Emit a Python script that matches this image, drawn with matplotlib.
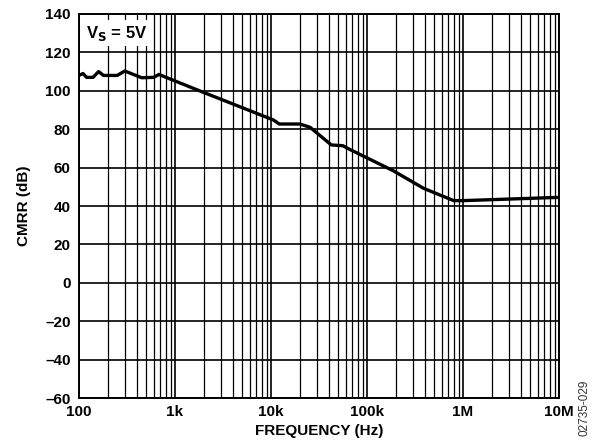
import matplotlib.pyplot as plt
from matplotlib.ticker import FixedLocator, LogLocator, NullFormatter

plt.rcParams['font.family'] = ['Liberation Sans', 'DejaVu Sans']
plt.rcParams['font.weight'] = 'bold'
plt.rcParams['axes.unicode_minus'] = True

# curve (Hz, dB)
freq = [100, 110, 120, 140, 160, 180, 250, 300, 450, 600, 680,
        1800, 10600, 12200, 20000, 25500, 42500, 56000, 66000,
        187000, 389000, 800000, 1000000, 10000000]
cmrr = [108, 109, 107, 107, 110, 108, 108, 110.3, 106.8, 107, 108.5,
        100, 84.8, 82.7, 82.7, 81, 71.8, 71.4, 69.5,
        58.4, 49.2, 42.8, 42.8, 44.5]

yticks = [-60, -40, -20, 0, 20, 40, 60, 80, 100, 120, 140]
xticks = [1e2, 1e3, 1e4, 1e5, 1e6, 1e7]
xlabels = ['100', '1k', '10k', '100k', '1M', '10M']

fig = plt.figure(figsize=(5.92, 4.44), dpi=100)
ax = fig.add_axes([79 / 592, 1 - 398 / 444, 480 / 592, 384 / 444])

ax.semilogx(freq, cmrr, color='black', linewidth=2.4, zorder=3)

ax.set_xlim(100, 1e7)
ax.set_ylim(-60, 140)
ax.xaxis.set_major_locator(FixedLocator(xticks))
ax.set_xticklabels(xlabels)
ax.xaxis.set_minor_locator(LogLocator(base=10, subs=range(2, 10)))
ax.xaxis.set_minor_formatter(NullFormatter())
ax.set_yticks(yticks)
ax.set_yticklabels([str(v).replace('-', '\u2013') for v in yticks])

ax.grid(which='major', axis='both', color='black', linewidth=1.2)
ax.grid(which='minor', axis='x', color='black', linewidth=0.9)
ax.tick_params(which='both', length=0, labelsize=11)
ax.tick_params(axis='y', pad=6)
ax.tick_params(axis='x', pad=5)
for s in ax.spines.values():
    s.set_linewidth(1.4)

ax.set_xlabel('FREQUENCY (Hz)', fontsize=11, fontweight='bold', labelpad=4)
ax.set_ylabel('CMRR (dB)', fontsize=11, fontweight='bold', labelpad=10)

ax.text(0.014, 0.975, r'V$_\mathbf{S}$ = 5V', transform=ax.transAxes,
        fontsize=12, fontweight='bold', va='top', ha='left', zorder=4,
        bbox=dict(facecolor='white', edgecolor='none', pad=2.5))

fig.text(584 / 592, 1 - 408 / 444, '02735-029', rotation=90, fontsize=8.5,
         fontweight='normal', ha='center', va='center', color='#333333')

fig.savefig('out.png', dpi=100)
